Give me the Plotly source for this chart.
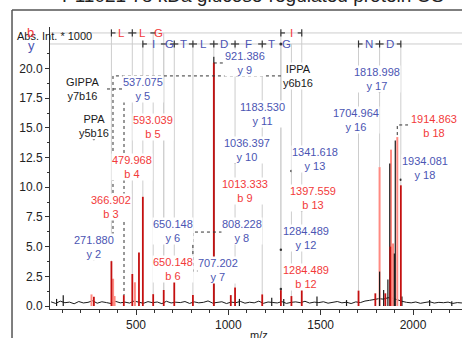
import plotly.graph_objects as go

# ---------------- data ----------------
# baseline noise: m/z grid start/step and hand-read intensities (x1000)
noise_start = 40
noise_step = 25
noise_int = [0.35, 0.22, 0.41, 0.28, 0.33, 0.19, 0.38, 0.26, 0.31, 0.44,
             0.24, 0.36, 0.29, 0.21, 0.39, 0.27, 0.33, 0.25, 0.42, 0.30,
             0.23, 0.37, 0.28, 0.34, 0.20, 0.40, 0.26, 0.32, 0.29, 0.38,
             0.22, 0.35, 0.27, 0.31, 0.43, 0.25, 0.30, 0.36, 0.21, 0.33,
             0.28, 0.39, 0.24, 0.32, 0.27, 0.41, 0.23, 0.34, 0.30, 0.26,
             0.37, 0.22, 0.31, 0.35, 0.28, 0.40, 0.25, 0.33, 0.29, 0.36,
             0.24, 0.30, 0.38, 0.27, 0.32, 0.21, 0.35, 0.29, 0.42, 0.48,
             0.55, 0.62, 0.58, 0.70, 0.66, 0.52, 0.40, 0.31, 0.27, 0.34,
             0.23, 0.30, 0.36, 0.25, 0.31, 0.28, 0.33, 0.22, 0.29, 0.26]

black_mz = [70, 106, 921.4, 1060, 1235, 1300, 1480, 1640, 1819, 1841, 1864,
            1874, 1899, 1904, 1940, 2090, 2210]
black_int = [0.6, 0.9, 21.0, 0.6, 0.7, 0.6, 0.8, 0.5, 2.9, 1.34, 2.24,
             12.0, 4.43, 13.95, 0.8, 0.5, 0.4]

red_mz = [271.9, 366.9, 434.0, 480.0, 516.0, 537.1, 593.0, 650.1, 707.2, 808.2,
          921.4, 1013.3, 1036.4, 1183.5, 1284.5, 1341.6, 1397.6, 1705.0, 1796,
          1850, 1877, 1934.1]
red_int = [0.78, 3.78, 0.92, 2.7, 4.5, 9.2, 1.0, 1.35, 2.24, 0.92,
           20.5, 0.92, 1.57, 0.98, 1.34, 0.84, 1.4, 1.3, 1.07,
           1.07, 5.0, 10.17]

salmon_mz = [259, 376, 384, 494, 1819.0, 1881, 1892, 1914.9]
salmon_int = [0.98, 2.3, 0.84, 2.0, 11.7, 13.17, 5.27, 14.23]

# annotated fragment ions
frag_mz = [271.880, 366.902, 479.968, 537.075, 593.039, 650.148, 650.148,
           707.202, 808.228, 921.386, 1013.333, 1036.397, 1183.530, 1284.489,
           1284.489, 1341.618, 1397.559, 1704.964, 1818.998, 1914.863, 1934.081]
frag_ion = ["y 2", "b 3", "b 4", "y 5", "b 5", "y 6", "b 6", "y 7", "y 8", "y 9",
            "b 9", "y 10", "y 11", "y 12", "b 12", "y 13", "b 13", "y 16", "y 17",
            "b 18", "y 18"]

internal_text = ["GIPPA<br>y7b16", "PPA<br>y5b16", "IPPA<br>y6b16"]

# sequence ladders
b_ticks = [[366.902, 479.968, 593.039, 650.148], [1284.489, 1397.559]]
b_marks = [["start", "mid", "dash", ""], ["start", "end"]]
b_res = [["L", "L", "G"], ["I"]]
y_ticks = [[537.075, 650.148, 707.202, 808.228, 921.386, 1036.397, 1183.530,
            1284.489, 1341.618], [1704.964, 1818.998, 1934.081]]
y_marks = [["start", "dash", "mid", "mid", "mid", "mid", "mid", "dot", ""],
           ["start", "mid", "end"]]
y_res = [["I", "G", "T", "L", "D", "F", "T", "G"], ["N", "D"]]

x_tick_vals = [500, 1000, 1500, 2000]
x_minor_vals = [100, 200, 300, 400, 600, 700, 800, 900, 1100, 1200, 1300, 1400,
                1600, 1700, 1800, 1900, 2100, 2200]
y_tick_vals = [0, 2.5, 5, 7.5, 10, 12.5, 15, 17.5, 20]
y_minor_vals = [1.25, 3.75, 6.25, 8.75, 11.25, 13.75, 16.25, 18.75, 21.25]

title_text = "P11021 78 kDa glucose-regulated protein OS"

# ---------------- layout / style (positions of labels etc.) ----------------
FONT = "Liberation Sans, Arial, Helvetica, sans-serif"
RED_TXT = "#f23a3a"
BLUE_TXT = "#4b55b3"
BLACK_TXT = "#1a1a1a"
PEAK_RED = "#c41010"
PEAK_SALMON = "#ff8a82"
PEAK_BLACK = "#1a1a1a"
LINE_GRAY = "#cdcdcd"

X_RANGE = [34.3, 2265.3]
Y_RANGE = [-0.25, 23.5]
ROW_B, ROW_Y = 23.0, 22.07

label_x = [272.6, 364.6, 478.3, 537.9, 592.1, 700.3, 700.3, 944, 1074, 1090,
           1090, 1101, 1182.3, 1420.5, 1420.5, 1469.3, 1458.5, 1691.3, 1805,
           2113.7, 2065]
label_y = [4.97, 8.38, 11.75, 18.32, 15.12, 6.36, 3.12, 3.07, 6.36, 20.5,
           9.69, 13.1, 16.18, 5.73, 2.44, 12.38, 9.06, 15.67, 19.08, 15.16, 11.63]
label_dot = [True, True, True, True, True, True, True, False, False, False,
             True, True, True, True, True, True, True, True, True, False, True]
internal_x = [207.6, 272.6, 1377.3]
internal_y = [18.32, 15.16, 19.38]

dash_paths = [
    [(375.4, 4.47), (375.4, 19.38), (1290, 19.38)],
    [(343, 18.28), (435, 18.28), (435, 0.92)],
    [(921.386, 20.47), (982, 20.47)],
    [(998, 6.23), (808.228, 6.23), (808.228, 2.95), (928, 2.95)],
    [(1914.863, 14.4), (1914.863, 15.25), (1973, 15.25)],
]

TICK_H = 0.30
STUB = 22


def sticks(mzs, ints):
    xs, ys = [], []
    for m, h in zip(mzs, ints):
        xs += [m, m, None]
        ys += [0, h, None]
    return xs, ys


def peak_top(m):
    best = 0.3
    for arr_m, arr_i in ((red_mz, red_int), (salmon_mz, salmon_int), (black_mz, black_int)):
        for pm, pi in zip(arr_m, arr_i):
            if abs(pm - m) < 8 and pi > best:
                best = pi
    return best


fig = go.Figure()

# gray ladder guide lines (vertical)
gx, gy = [], []
for row, groups in ((ROW_B, b_ticks), (ROW_Y, y_ticks)):
    for g in groups:
        for m in g:
            gx += [m, m, None]
            gy += [row, peak_top(m), None]
fig.add_trace(go.Scatter(x=gx, y=gy, mode="lines", line=dict(color=LINE_GRAY, width=1),
                         hoverinfo="skip"))
# horizontal ladder rows
for row in (ROW_B, ROW_Y):
    fig.add_trace(go.Scatter(x=X_RANGE, y=[row, row], mode="lines",
                             line=dict(color=LINE_GRAY, width=1), hoverinfo="skip"))

# spectrum
noise_mz = [noise_start + noise_step * i for i in range(len(noise_int))]
fig.add_trace(go.Scatter(x=noise_mz, y=noise_int, mode="lines",
                         line=dict(color=PEAK_BLACK, width=1), hoverinfo="skip"))
sx, sy = sticks(salmon_mz, salmon_int)
fig.add_trace(go.Scatter(x=sx, y=sy, mode="lines", line=dict(color=PEAK_SALMON, width=2),
                         hoverinfo="skip"))
bx, by = sticks(black_mz, black_int)
fig.add_trace(go.Scatter(x=bx, y=by, mode="lines", line=dict(color=PEAK_BLACK, width=1.2),
                         hoverinfo="skip"))
rx, ry = sticks(red_mz, red_int)
fig.add_trace(go.Scatter(x=rx, y=ry, mode="lines", line=dict(color=PEAK_RED, width=1.8),
                         hoverinfo="skip"))

# dashed connectors
for path in dash_paths:
    fig.add_trace(go.Scatter(x=[p[0] for p in path], y=[p[1] for p in path], mode="lines",
                             line=dict(color="#333333", width=1, dash="dot"),
                             hoverinfo="skip"))

# ladder tick marks
lx, ly, dx, dy = [], [], [], []
for row, tgroups, mgroups in ((ROW_B, b_ticks, b_marks), (ROW_Y, y_ticks, y_marks)):
    for ticks, marks in zip(tgroups, mgroups):
        for m, k in zip(ticks, marks):
            if k in ("start", "mid", "end"):
                lx += [m, m, None]
                ly += [row - TICK_H, row + TICK_H, None]
            if k in ("start", "mid"):
                lx += [m, m + STUB, None]
                ly += [row, row, None]
            if k in ("end", "mid"):
                lx += [m - STUB, m, None]
                ly += [row, row, None]
            if k == "dash":
                lx += [m - STUB * 0.7, m + STUB * 0.7, None]
                ly += [row, row, None]
            if k == "dot":
                dx.append(m)
                dy.append(row)
fig.add_trace(go.Scatter(x=lx, y=ly, mode="lines", line=dict(color="#333333", width=1.2),
                         hoverinfo="skip"))
fig.add_trace(go.Scatter(x=dx, y=dy, mode="markers", marker=dict(color="#333333", size=3),
                         hoverinfo="skip"))

# label dots
ddx = [frag_mz[i] for i in range(len(frag_mz)) if label_dot[i]]
ddy = [label_y[i] - 1.0 for i in range(len(frag_mz)) if label_dot[i]]
ddx.append(271.88)
ddy.append(internal_y[1] - 1.1)
fig.add_trace(go.Scatter(x=ddx, y=ddy, mode="markers", marker=dict(color="#333333", size=2.5),
                         hoverinfo="skip"))

annotations = []
# residue letters
for row, tgroups, rgroups, col in ((ROW_B, b_ticks, b_res, RED_TXT),
                                    (ROW_Y, y_ticks, y_res, BLUE_TXT)):
    for ticks, res in zip(tgroups, rgroups):
        for j, r in enumerate(res):
            annotations.append(dict(x=(ticks[j] + ticks[j + 1]) / 2, y=row, xref="x", yref="y",
                                    text=r, showarrow=False, xanchor="center", yanchor="middle",
                                    font=dict(family=FONT, size=11.5, color=col)))

# fragment labels
for i, m in enumerate(frag_mz):
    col = RED_TXT if frag_ion[i].startswith("b") else BLUE_TXT
    annotations.append(dict(x=label_x[i], y=label_y[i], xref="x", yref="y",
                            text=f"{m:.3f}<br>{frag_ion[i]}", showarrow=False,
                            xanchor="center", yanchor="middle", bgcolor="white", borderpad=0,
                            font=dict(family=FONT, size=11, color=col)))
for t, x, y in zip(internal_text, internal_x, internal_y):
    annotations.append(dict(x=x, y=y, xref="x", yref="y", text=t, showarrow=False,
                            xanchor="center", yanchor="middle", bgcolor="white", borderpad=0,
                            font=dict(family=FONT, size=11, color=BLACK_TXT)))

# axis / legend texts
annotations += [
    dict(x=-0.085, y=0.968, xref="paper", yref="paper", text="Abs. Int. * 1000",
         showarrow=False, xanchor="left", yanchor="middle",
         font=dict(family=FONT, size=11, color=BLACK_TXT)),
    dict(x=-0.0485, y=0.982, xref="paper", yref="paper", text="b", showarrow=False,
         xanchor="center", yanchor="middle", font=dict(family=FONT, size=13, color=RED_TXT)),
    dict(x=-0.046, y=0.936, xref="paper", yref="paper", text="y", showarrow=False,
         xanchor="center", yanchor="middle", font=dict(family=FONT, size=13, color=BLUE_TXT)),
    dict(x=0.507, y=-0.092, xref="paper", yref="paper", text="m/z", showarrow=False,
         xanchor="center", yanchor="middle", font=dict(family=FONT, size=11, color=BLACK_TXT)),
    dict(x=0.024, y=1.068, xref="paper", yref="paper",
         text=title_text, showarrow=False,
         xanchor="left", yanchor="bottom", font=dict(family=FONT, size=19, color="#222222")),
]

shapes = [
    dict(type="line", xref="paper", yref="paper", x0=-0.0922, x1=-0.0922, y0=1.0603, y1=-0.2,
         line=dict(color="#555555", width=1.5)),
    dict(type="line", xref="paper", yref="paper", x0=-0.0922, x1=1.2, y0=1.0603, y1=1.0603,
         line=dict(color="#555555", width=1.5)),
]

fig.update_layout(
    width=462, height=338, margin=dict(l=50, r=0, t=27, b=29, pad=0),
    paper_bgcolor="white", plot_bgcolor="white", showlegend=False,
    font=dict(family=FONT, size=12, color="#222222"),
    annotations=annotations, shapes=shapes,
)
fig.update_xaxes(range=X_RANGE, showline=True, linecolor="#333333", linewidth=1,
                 ticks="outside", ticklen=5, tickcolor="#333333", tickvals=x_tick_vals,
                 showgrid=False, zeroline=False, tickfont=dict(family=FONT, size=12, color="#222"),
                 minor=dict(tickvals=x_minor_vals, ticklen=3, ticks="outside",
                            tickcolor="#333333", showgrid=False))
fig.update_yaxes(range=Y_RANGE, showline=True, linecolor="#333333", linewidth=1,
                 ticks="outside", ticklen=4, tickcolor="#333333", tickvals=y_tick_vals,
                 tickformat=".1f", showgrid=False, zeroline=False,
                 tickfont=dict(family=FONT, size=12, color="#222"),
                 minor=dict(tickvals=y_minor_vals, ticklen=2, ticks="outside",
                            tickcolor="#333333", showgrid=False))

fig.write_html("out.html")
